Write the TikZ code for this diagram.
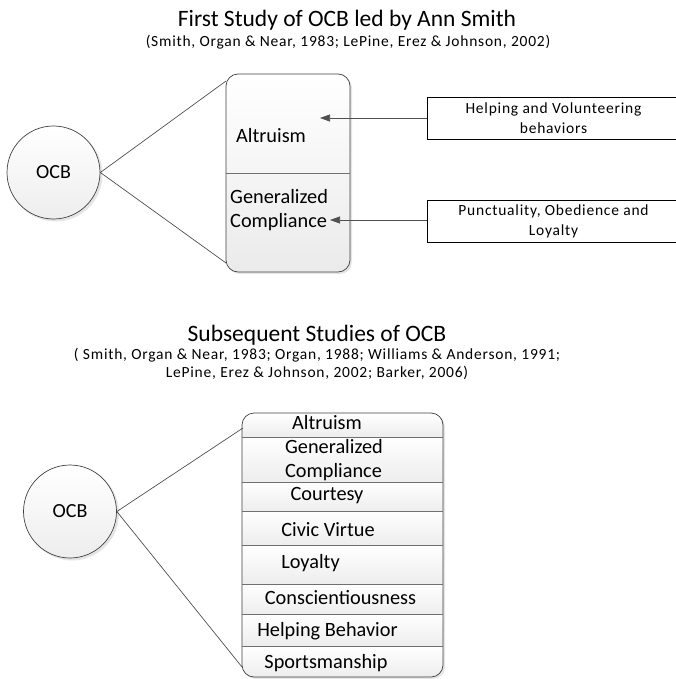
\documentclass[tikz,border=0pt]{standalone}
\usepackage{fontspec}
\setmainfont{Carlito}
\usetikzlibrary{arrows.meta,calc}
\definecolor{edge}{HTML}{404040}
\definecolor{conncol}{HTML}{505050}
\definecolor{divcol}{HTML}{707070}
\begin{document}
\begin{tikzpicture}[x=1pt,y=-1pt,
  txt/.style={inner sep=0pt, text=black},
  ttl/.style={txt,font=\fontsize{23.5}{28}\selectfont},
  subt/.style={txt,font=\fontsize{15.5}{17.5}\selectfont\addfontfeatures{LetterSpace=5},align=center},
  item/.style={txt,font=\fontsize{20.3}{24}\selectfont},
  notebox/.style={draw=black,line width=0.8pt,fill=white,inner sep=0pt,minimum width=253pt,minimum height=42pt,
     font=\fontsize{15.5}{20}\selectfont\addfontfeatures{LetterSpace=5},align=center},
  ocb/.style={circle,draw=edge,line width=0.7pt,minimum size=93pt,inner sep=0pt,top color=white,bottom color=gray!14,
     font=\fontsize{20}{24}\selectfont},
  conn/.style={draw=conncol,line width=0.7pt},
  arr/.style={conn,-{Triangle[length=10pt,width=7pt]}},
  divider/.style={draw=divcol,line width=0.7pt},
  shadowc/.style={fill=black,opacity=0.10}
]
\useasboundingbox (0,0) rectangle (676,679);

% ---------- First study ----------
\node[ttl] (title1) at (347,20) {First Study of OCB led by Ann Smith};
\node[subt] (sub1) at (348,42) {(Smith, Organ \& Near, 1983; LePine, Erez \& Johnson, 2002)};

% circle
\fill[shadowc] (55.5,174.5) circle (47);
\node[ocb] (ocb1) at (53.5,172.5) {OCB};

% box
\fill[shadowc,rounded corners=12pt] (228,76) rectangle (352,274);
\node[draw=edge,line width=0.7pt,rounded corners=12pt,minimum width=124pt,minimum height=198pt,inner sep=0pt,
      top color=white,bottom color=gray!16] (box1) at (288,173) {};
\draw[divider] (box1.west) -- (box1.east);

\node[item,anchor=west] (alt1) at (236,136) {Altruism};
\node[item,anchor=west,align=left] (gc1) at (230,210) {Generalized\\Compliance};

% note boxes
\node[notebox] (help) at (553.5,118) {Helping and Volunteering\\behaviors};
\node[notebox] (punct) at (553.5,221.5) {Punctuality, Obedience and\\Loyalty};

\coordinate (tip1) at (320,118);
\coordinate (tip2) at (330,220);
\draw[arr] (help.west) -- (tip1);
\draw[arr] (punct.west |- tip2) -- (tip2);

% connectors from OCB
\coordinate (c1a) at (226,81);
\coordinate (c1b) at (226,263);
\draw[conn] (ocb1.east) -- (c1a);
\draw[conn] (ocb1.east) -- (c1b);

% ---------- Subsequent studies ----------
\node[ttl] (title2) at (317,335) {Subsequent Studies of OCB};
\node[subt] (sub2) at (317,364) {( Smith, Organ \& Near, 1983; Organ, 1988; Williams \& Anderson, 1991;\\LePine, Erez \& Johnson, 2002; Barker, 2006)};

\fill[shadowc] (72,513.5) circle (47);
\node[ocb] (ocb2) at (70,511.5) {OCB};

% list box
\fill[shadowc,rounded corners=12pt] (244,415) rectangle (445,679);
\begin{scope}
  \clip[rounded corners=12pt] (242,413) rectangle (443,677);
  \foreach \a/\b in {413/437,437/482,482/511,511/545,545/584,584/614,614/646,646/677}
    \shade[top color=white,bottom color=gray!14] (242,\a) rectangle (443,\b);
\end{scope}
\node[draw=edge,line width=0.7pt,rounded corners=12pt,minimum width=201pt,minimum height=264pt,inner sep=0pt] (box2) at (342.5,545) {};
\foreach \y in {437,482,511,545,584,614,646}
  \draw[divider] (242,\y) -- (443,\y);

\node[item] (l1) at (327,423) {Altruism};
\node[item,align=left] (l2) at (334,460) {Generalized\\Compliance};
\node[item] (l3) at (327,496) {Courtesy};
\node[item] (l4) at (328,530) {Civic Virtue};
\node[item] (l5) at (310.5,563) {Loyalty};
\node[item] (l6) at (340.5,598) {Conscientiousness};
\node[item] (l7) at (327.5,631) {Helping Behavior};
\node[item] (l8) at (326,663) {Sportsmanship};

\coordinate (c2a) at (243,428);
\coordinate (c2b) at (242,667);
\draw[conn] (ocb2.east) -- (c2a);
\draw[conn] (ocb2.east) -- (c2b);
\end{tikzpicture}
\end{document}
